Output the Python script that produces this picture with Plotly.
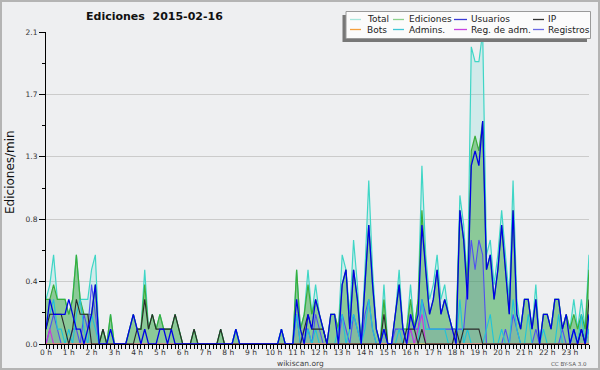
import plotly.graph_objects as go

# 10-minute bins, 0h00 .. 23h50 (values in edits per minute)
hours = list(range(24))
hour_labels = [f"{h} h" for h in hours]

total = [0.3,0.4,0.6,0.3,0.3,0.3, 0.2,0.3,0.6,0.3,0.3,0.3, 0.5,0.6,0.0,0.1,0.0,0.2,
         0.0,0.0,0.0,0.0,0.1,0.2, 0.1,0.1,0.5,0.1,0.2,0.1, 0.2,0.1,0.1,0.1,0.2,0.1,
         0.0,0.0,0.0,0.1,0.0,0.0, 0.0,0.0,0.0,0.0,0.1,0.0, 0.0,0.0,0.1,0.0,0.0,0.0,
         0.0,0.0,0.0,0.0,0.0,0.0, 0.0,0.0,0.1,0.0,0.0,0.0, 0.5,0.1,0.2,0.5,0.2,0.4,
         0.2,0.1,0.0,0.2,0.2,0.1, 0.6,0.5,0.2,0.7,0.4,0.0, 0.5,1.1,0.5,0.1,0.0,0.4,
         0.0,0.0,0.2,0.5,0.1,0.1, 0.4,0.1,0.3,1.2,0.6,0.3, 0.4,0.6,0.3,0.4,0.2,0.1,
         0.1,1.0,0.8,0.4,2.0,1.9, 1.9,2.1,0.6,0.7,0.4,0.6, 0.9,0.6,0.3,1.1,0.3,0.1,
         0.3,0.3,0.1,0.4,0.0,0.2, 0.2,0.1,0.3,0.3,0.1,0.2, 0.1,0.3,0.1,0.3,0.1,0.6]

ediciones = [0.3,0.3,0.4,0.3,0.3,0.3, 0.2,0.3,0.6,0.3,0.2,0.2, 0.2,0.4,0.0,0.1,0.0,0.2,
             0.0,0.0,0.0,0.0,0.1,0.2, 0.1,0.1,0.4,0.1,0.2,0.1, 0.2,0.1,0.1,0.1,0.2,0.1,
             0.0,0.0,0.0,0.1,0.0,0.0, 0.0,0.0,0.0,0.0,0.1,0.0, 0.0,0.0,0.1,0.0,0.0,0.0,
             0.0,0.0,0.0,0.0,0.0,0.0, 0.0,0.0,0.1,0.0,0.0,0.0, 0.5,0.1,0.2,0.4,0.2,0.3,
             0.2,0.1,0.0,0.2,0.2,0.1, 0.4,0.5,0.1,0.5,0.3,0.0, 0.4,0.8,0.4,0.1,0.0,0.3,
             0.0,0.0,0.2,0.4,0.1,0.1, 0.3,0.1,0.3,0.9,0.5,0.2, 0.3,0.5,0.2,0.3,0.2,0.1,
             0.1,0.9,0.7,0.4,1.3,1.4, 1.3,1.5,0.5,0.6,0.3,0.5, 0.8,0.5,0.2,0.9,0.2,0.1,
             0.3,0.3,0.1,0.3,0.0,0.2, 0.2,0.1,0.3,0.3,0.1,0.2, 0.1,0.2,0.1,0.2,0.1,0.5]

usuarios = [0.1,0.3,0.2,0.2,0.2,0.2, 0.3,0.2,0.1,0.1,0.0,0.1, 0.2,0.4,0.0,0.0,0.0,0.1,
            0.0,0.0,0.0,0.0,0.1,0.2, 0.1,0.0,0.1,0.0,0.0,0.0, 0.1,0.1,0.0,0.1,0.0,0.0,
            0.0,0.0,0.0,0.0,0.0,0.0, 0.0,0.0,0.0,0.0,0.0,0.0, 0.0,0.0,0.1,0.0,0.0,0.0,
            0.0,0.0,0.0,0.0,0.0,0.0, 0.0,0.0,0.1,0.0,0.0,0.0, 0.3,0.1,0.0,0.2,0.1,0.3,
            0.2,0.1,0.0,0.2,0.2,0.0, 0.4,0.5,0.1,0.5,0.3,0.0, 0.4,0.8,0.4,0.1,0.0,0.1,
            0.0,0.0,0.2,0.4,0.1,0.0, 0.2,0.1,0.2,0.8,0.5,0.2, 0.3,0.5,0.2,0.3,0.2,0.1,
            0.0,0.9,0.7,0.3,1.2,1.3, 1.2,1.5,0.5,0.6,0.3,0.5, 0.8,0.5,0.2,0.9,0.2,0.1,
            0.3,0.3,0.1,0.3,0.0,0.2, 0.2,0.1,0.3,0.3,0.1,0.2, 0.0,0.1,0.0,0.1,0.0,0.2]

ip = [0.1,0.2,0.2,0.2,0.2,0.1, 0.0,0.1,0.3,0.2,0.2,0.2, 0.0,0.0,0.0,0.1,0.0,0.0,
      0.0,0.0,0.0,0.0,0.0,0.0, 0.1,0.1,0.3,0.1,0.2,0.1, 0.1,0.1,0.1,0.1,0.2,0.1,
      0.0,0.0,0.0,0.1,0.0,0.0, 0.0,0.0,0.0,0.0,0.1,0.0, 0.0,0.0,0.0,0.0,0.0,0.0,
      0.0,0.0,0.0,0.0,0.0,0.0, 0.0,0.0,0.0,0.0,0.0,0.0, 0.0,0.0,0.1,0.2,0.1,0.1,
      0.1,0.1,0.0,0.0,0.0,0.0, 0.0,0.0,0.0,0.0,0.0,0.0, 0.0,0.0,0.0,0.0,0.0,0.2,
      0.0,0.0,0.0,0.0,0.0,0.1, 0.1,0.1,0.0,0.1,0.0,0.0, 0.0,0.0,0.0,0.0,0.0,0.0,
      0.1,0.0,0.1,0.1,0.1,0.1, 0.1,0.0,0.0,0.0,0.0,0.0, 0.0,0.0,0.0,0.0,0.0,0.0,
      0.0,0.0,0.0,0.0,0.0,0.0, 0.0,0.0,0.0,0.0,0.0,0.0, 0.0,0.0,0.0,0.1,0.0,0.3]

bots = [0.0] * 144

admins = [0.1,0.2,0.3,0.1,0.1,0.0, 0.1,0.0,0.2,0.3,0.1,0.0, 0.2,0.1,0.0,0.0,0.0,0.1,
          0.0,0.0,0.0,0.0,0.0,0.0, 0.0,0.0,0.0,0.0,0.0,0.0, 0.0,0.0,0.0,0.0,0.0,0.0,
          0.0,0.0,0.0,0.0,0.0,0.0, 0.0,0.0,0.0,0.0,0.0,0.0, 0.0,0.0,0.1,0.0,0.0,0.0,
          0.0,0.0,0.0,0.0,0.0,0.0, 0.0,0.0,0.1,0.0,0.0,0.0, 0.2,0.0,0.0,0.1,0.0,0.1,
          0.0,0.0,0.0,0.0,0.0,0.1, 0.2,0.0,0.1,0.2,0.1,0.0, 0.1,0.3,0.1,0.0,0.0,0.1,
          0.0,0.0,0.0,0.1,0.0,0.0, 0.1,0.0,0.0,0.3,0.1,0.1, 0.1,0.1,0.1,0.1,0.0,0.0,
          0.0,0.3,0.0,0.1,0.0,0.0, 0.0,0.0,0.1,0.2,0.0,0.0, 0.1,0.0,0.0,0.3,0.1,0.0,
          0.0,0.2,0.0,0.0,0.0,0.1, 0.0,0.0,0.0,0.2,0.0,0.0, 0.0,0.1,0.0,0.2,0.0,0.1]

reg_adm = [0.0,0.1,0.0,0.0,0.0,0.0] + [0.0] * 90 + [0.1,0.0,0.1,0.2,0.0,0.0] + [0.0] * 42

registros = [0.0,0.1,0.2,0.1,0.0,0.0, 0.0,0.1,0.1,0.0,0.2,0.1, 0.4,0.2,0.0,0.0,0.0,0.0,
             0.0,0.0,0.0,0.0,0.0,0.0, 0.0,0.0,0.0,0.0,0.0,0.0, 0.0,0.0,0.0,0.0,0.0,0.0,
             0.0,0.0,0.0,0.0,0.0,0.0, 0.0,0.0,0.0,0.0,0.0,0.0, 0.0,0.0,0.0,0.0,0.0,0.0,
             0.0,0.0,0.0,0.0,0.0,0.0, 0.0,0.0,0.0,0.0,0.0,0.0, 0.2,0.0,0.1,0.1,0.0,0.2,
             0.1,0.0,0.0,0.0,0.0,0.0, 0.2,0.1,0.0,0.2,0.1,0.0, 0.2,0.3,0.1,0.0,0.0,0.1,
             0.0,0.0,0.1,0.1,0.1,0.0, 0.2,0.1,0.1,0.3,0.2,0.1, 0.1,0.1,0.1,0.1,0.1,0.1,
             0.1,0.1,0.1,0.4,0.7,0.5, 0.7,0.6,0.0,0.0,0.0,0.0, 0.0,0.1,0.0,0.2,0.1,0.0,
             0.0,0.0,0.0,0.1,0.0,0.0, 0.0,0.0,0.0,0.0,0.1,0.0, 0.0,0.1,0.0,0.1,0.0,0.1]

x = [i / 6 for i in range(144)]

BG = "#eeeff1"
fig = go.Figure()

def add(y, color, width=1.2, fill=None, fillcolor=None):
    fig.add_trace(go.Scatter(x=x, y=y, mode="lines", line=dict(color=color, width=width),
                             fill=fill, fillcolor=fillcolor, showlegend=False,
                             hoverinfo="skip"))

add(total, "#3fd6c6", 1.2, "tozeroy", "rgba(64,214,198,0.16)")
add(ediciones, "#3aae3a", 1.2, "tozeroy", "rgba(62,165,62,0.48)")
add(registros, "#5050f0", 1.1, "tozeroy", "rgba(80,80,200,0.12)")
add(admins, "#20c4d8", 1.1)
add(reg_adm, "#cc33dd", 1.1)
add(bots, "#ff9933", 1.0)
add(ip, "#2a2a2a", 1.1)
add(usuarios, "#0000e6", 1.3)

# pixel -> paper helpers (plot area: x 46..589, y 32..344)
L, R, T, B = 46, 11, 32, 26
W, H = 600 - L - R, 370 - T - B
def PX(px): return (px - L) / W
def PY(py): return (370 - B - py) / H

shapes = []
annotations = []

# outer frame
shapes.append(dict(type="rect", xref="paper", yref="paper", x0=PX(1), x1=PX(599),
                   y0=PY(369), y1=PY(1), line=dict(color="#b4b4b4", width=2),
                   fillcolor="rgba(0,0,0,0)", layer="above"))

# legend (drawn manually to match compact layout)
shapes.append(dict(type="rect", xref="paper", yref="paper", x0=PX(342.5), x1=PX(587),
                   y0=PY(42), y1=PY(15), line=dict(width=0), fillcolor="#777777"))
shapes.append(dict(type="rect", xref="paper", yref="paper", x0=PX(346), x1=PX(590.5),
                   y0=PY(38.5), y1=PY(11.5), line=dict(color="#9a9a9a", width=1),
                   fillcolor="#fbfbfb"))

legend_names = ["Total", "Ediciones", "Usuarios", "IP",
                "Bots", "Admins.", "Reg. de adm.", "Registros"]
legend_colors = ["#a6e6dc", "#8dd18d", "#3a3ad6", "#333333",
                 "#f5a03c", "#3fc6d6", "#c642e0", "#6a6ae4"]
col_line = [(350, 361), (393, 404), (454, 467), (533, 544)]
col_text = [365, 407, 469, 546]
row_y = [19.5, 29.5]
for k, (name, col) in enumerate(zip(legend_names, legend_colors)):
    r, c = divmod(k, 4)
    x0, x1 = col_line[c]
    shapes.append(dict(type="line", xref="paper", yref="paper", x0=PX(x0), x1=PX(x1),
                       y0=PY(row_y[r]), y1=PY(row_y[r]), line=dict(color=col, width=1.3)))
    annotations.append(dict(xref="paper", yref="paper", x=PX(col_text[c]), y=PY(row_y[r]),
                            text=name, showarrow=False, xanchor="left", yanchor="middle",
                            font=dict(family="DejaVu Sans", size=9, color="#222222")))

annotations += [
    dict(xref="paper", yref="paper", x=PX(154), y=PY(17), text="Ediciones\u00a0 2015-02-16",
         showarrow=False, xanchor="center", yanchor="middle",
         font=dict(family="DejaVu Sans", size=11, color="#111111", weight="bold")),
    dict(xref="paper", yref="paper", x=PX(10), y=PY(172), text="Ediciones/min",
         showarrow=False, textangle=-90, xanchor="center", yanchor="middle",
         font=dict(family="DejaVu Sans", size=12, color="#111111")),
    dict(xref="paper", yref="paper", x=PX(300), y=PY(363), text="wikiscan.org",
         showarrow=False, xanchor="center", yanchor="middle",
         font=dict(family="DejaVu Sans", size=7.5, color="#444444")),
    dict(xref="paper", yref="paper", x=PX(569), y=PY(363.5), text="CC BY-SA 3.0",
         showarrow=False, xanchor="center", yanchor="middle",
         font=dict(family="DejaVu Sans", size=5.5, color="#555555")),
]

ytick_vals = [0, 0.42, 0.84, 1.26, 1.68, 2.1]
ytick_text = ["0.0", "0.4", "0.8", "1.3", "1.7", "2.1"]

fig.update_layout(
    width=600, height=370,
    margin=dict(l=L, r=R, t=T, b=B, pad=0),
    paper_bgcolor=BG, plot_bgcolor=BG,
    showlegend=False,
    shapes=shapes, annotations=annotations,
    xaxis=dict(range=[0, 143 / 6], tickmode="array", tickvals=hours, ticktext=hour_labels,
               ticks="outside", ticklen=4, tickcolor="#000000", tickwidth=1,
               ticklabelstandoff=-3,
               showline=True, linecolor="#000000", linewidth=1, showgrid=False,
               zeroline=False, tickfont=dict(family="DejaVu Sans", size=7.5, color="#333333"),
               minor=dict(dtick=1 / 6, tick0=0, ticks="outside", ticklen=4,
                          tickcolor="#000000", showgrid=False),
               fixedrange=True),
    yaxis=dict(range=[0, 2.1], tickmode="array", tickvals=ytick_vals, ticktext=ytick_text,
               ticks="outside", ticklen=6, tickcolor="#000000", tickwidth=1,
               showline=True, linecolor="#000000", linewidth=1,
               showgrid=True, gridcolor="#cbcbcb", gridwidth=1, zeroline=False,
               tickfont=dict(family="DejaVu Sans", size=7.5, color="#333333"),
               minor=dict(tickvals=[0.21, 0.63, 1.05, 1.47, 1.89], ticks="outside",
                          ticklen=3, tickcolor="#000000", showgrid=False),
               fixedrange=True),
)

fig.write_html("out.html", config={"displayModeBar": False},
               post_script="document.body.style.margin='0';document.body.style.overflow='hidden';")
